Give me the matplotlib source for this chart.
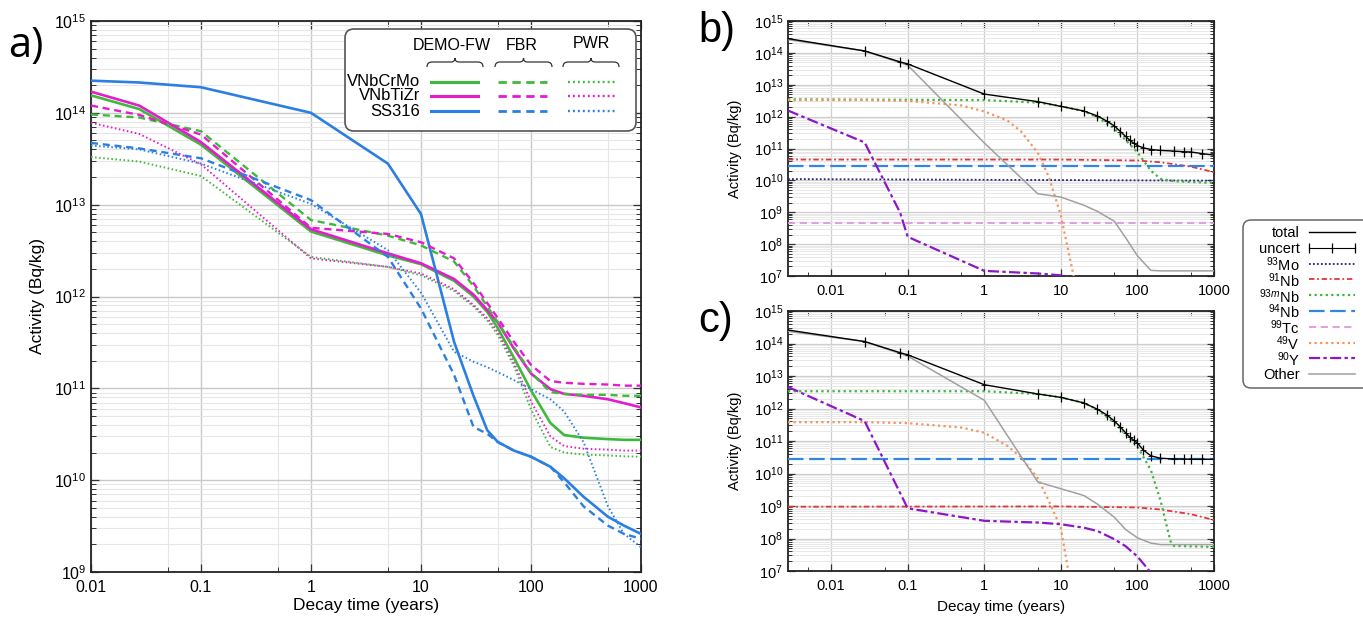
import numpy as np
import matplotlib
matplotlib.use('Agg')
import matplotlib.pyplot as plt
from matplotlib.lines import Line2D
from matplotlib.patches import FancyBboxPatch, PathPatch
from matplotlib.path import Path
from matplotlib.ticker import LogLocator, FuncFormatter, NullFormatter, FixedLocator

plt.rcParams['font.family'] = ['Liberation Sans', 'DejaVu Sans']
plt.rcParams['mathtext.fontset'] = 'custom'
plt.rcParams['mathtext.rm'] = 'Liberation Sans'
plt.rcParams['mathtext.it'] = 'Liberation Sans:italic'
plt.rcParams['mathtext.bf'] = 'Liberation Sans:bold'

# ---------------- Panel a data ----------------
t_a = [0.01, 0.0274, 0.1, 1, 5, 10, 20, 30, 40, 50, 70, 100, 150, 200, 300, 500, 700, 1000]
crmo_demo = [1.55e14, 1.1e14, 4.5e13, 5.1e12, 2.8e12, 2.25e12, 1.48e12, 1.0e12, 6.8e11, 4.5e11,
             2.15e11, 9.5e10, 4.2e10, 3.1e10, 2.9e10, 2.8e10, 2.75e10, 2.75e10]
tizr_demo = [1.7e14, 1.2e14, 4.8e13, 5.4e12, 2.95e12, 2.3e12, 1.55e12, 1.05e12, 7.1e11, 5.2e11,
             2.7e11, 1.45e11, 9.8e10, 8.7e10, 8.3e10, 7.6e10, 6.9e10, 6.2e10]
ss_demo = [2.24e14, 2.14e14, 1.9e14, 1.0e14, 2.8e13, 7.9e12, 3.2e11, 8.3e10, 3.5e10, 2.6e10,
           2.1e10, 1.8e10, 1.4e10, 1.05e10, 6.6e9, 4.0e9, 3.2e9, 2.6e9]
crmo_fbr = [9.6e13, 8.9e13, 6.3e13, 6.8e12, 4.6e12, 3.6e12, 2.4e12, 1.3e12, 7.8e11, 5.2e11,
            2.8e11, 1.48e11, 9.1e10, 8.7e10, 8.5e10, 8.5e10, 8.3e10, 8.3e10]
tizr_fbr = [1.2e14, 9.5e13, 5.8e13, 5.6e12, 4.8e12, 3.9e12, 2.6e12, 1.4e12, 8.5e11, 5.8e11,
            3.2e11, 1.8e11, 1.2e11, 1.15e11, 1.12e11, 1.1e11, 1.07e11, 1.07e11]
ss_fbr = [4.7e13, 4.1e13, 3.2e13, 1.12e13, 2.7e12, 7.4e11, 1.4e11, 3.8e10, 3.2e10, 2.6e10,
          2.1e10, 1.8e10, 1.4e10, 9.5e9, 5.2e9, 3.2e9, 2.6e9, 2.3e9]
crmo_pwr = [3.3e13, 2.95e13, 2.05e13, 2.7e12, 2.1e12, 1.7e12, 1.15e12, 7.8e11, 5.5e11, 3.8e11,
            1.75e11, 5.9e10, 2.3e10, 2.0e10, 1.9e10, 1.86e10, 1.82e10, 1.8e10]
tizr_pwr = [7.8e13, 5.9e13, 2.75e13, 2.6e12, 2.1e12, 1.78e12, 1.2e12, 8.1e11, 5.8e11, 4.1e11,
            1.9e11, 7.2e10, 3.0e10, 2.35e10, 2.2e10, 2.15e10, 2.1e10, 2.1e10]
ss_pwr = [4.4e13, 4.0e13, 2.8e13, 1.02e13, 3.2e12, 1.1e12, 2.5e11, 1.95e11, 1.7e11, 1.5e11,
          1.23e11, 9.8e10, 7.6e10, 5.6e10, 2.6e10, 5.2e9, 2.6e9, 1.86e9]

materials = ['VNbCrMo', 'VNbTiZr', 'SS316']
scenarios = ['DEMO-FW', 'FBR', 'PWR']

# ---------------- Panel b data (VNbTiZr) ----------------
b_t_total = [0.00274, 0.0274, 0.08, 0.1, 1, 5, 10, 20, 30, 40, 50, 60, 70, 80, 90, 100, 120, 150,
             200, 300, 400, 500, 700, 1000]
b_total = [2.8e14, 1.15e14, 5.2e13, 4.5e13, 5.1e12, 2.95e12, 2.1e12, 1.5e12, 1.05e12, 7.2e11,
           5.1e11, 3.4e11, 2.4e11, 1.8e11, 1.45e11, 1.23e11, 1.05e11, 9.3e10, 8.7e10, 8.3e10,
           7.9e10, 7.8e10, 6.9e10, 6.2e10]
b_t_mo93 = [0.00274, 1000]
b_mo93 = [1.1e10, 9.8e9]
b_t_nb91 = [0.00274, 10, 100, 200, 500, 1000]
b_nb91 = [4.5e10, 4.5e10, 4.2e10, 3.7e10, 2.7e10, 1.8e10]
b_t_nb93m = [0.00274, 1, 5, 10, 20, 30, 50, 70, 100, 150, 200, 300, 500, 1000]
b_nb93m = [3.5e12, 3.3e12, 2.75e12, 2.15e12, 1.48e12, 9.5e11, 4.2e11, 1.85e11, 7.6e10, 2.0e10,
           1.12e10, 9.5e9, 8.9e9, 8.3e9]
b_t_nb94 = [0.00274, 1000]
b_nb94 = [2.75e10, 2.75e10]
b_t_tc99 = [0.00274, 1000]
b_tc99 = [4.7e8, 4.7e8]
b_t_v49 = [0.00274, 0.0274, 0.1, 0.5, 1, 2, 3, 5, 7, 10, 12, 15]
b_v49 = [3.3e12, 3.3e12, 3.1e12, 2.25e12, 1.45e12, 7.6e11, 3.5e11, 7.4e10, 1.26e10, 8e8, 1e8, 8e6]
b_t_y90 = [0.00274, 0.0274, 0.08, 0.1, 1, 5, 10, 15]
b_y90 = [1.55e12, 1.55e11, 9.5e8, 1.7e8, 1.45e7, 1.2e7, 1.05e7, 8.9e6]
b_t_other = [0.00274, 0.0274, 0.1, 1, 5, 10, 20, 30, 50, 70, 100, 150, 200, 1000]
b_other = [2.6e14, 1.15e14, 4.1e13, 1.5e11, 3.8e9, 3.0e9, 1.66e9, 1.07e9, 5.2e8, 1.6e8, 4.3e7,
           1.5e7, 1.45e7, 1.45e7]

# ---------------- Panel c data (VNbCrMo) ----------------
c_t_total = b_t_total
c_total = [2.6e14, 1.15e14, 5.2e13, 4.5e13, 5.4e12, 2.8e12, 2.2e12, 1.48e12, 9.5e11, 6.3e11,
           4.1e11, 2.7e11, 1.8e11, 1.3e11, 1.05e11, 8.7e10, 5.2e10, 3.5e10, 2.95e10, 2.8e10,
           2.8e10, 2.75e10, 2.75e10, 2.75e10]
c_t_nb91 = [0.00274, 10, 100, 200, 500, 1000]
c_nb91 = [9.5e8, 9.7e8, 9.0e8, 7.8e8, 5.6e8, 3.7e8]
c_t_nb93m = [0.00274, 1, 5, 10, 20, 30, 50, 70, 100, 150, 200, 270, 300, 1000]
c_nb93m = [3.4e12, 3.4e12, 2.8e12, 2.2e12, 1.48e12, 9.3e11, 3.6e11, 1.6e11, 6.8e10, 1.26e10,
           1.5e9, 8.3e7, 5.9e7, 5.5e7]
c_t_nb94 = [0.00274, 1000]
c_nb94 = [2.8e10, 2.8e10]
c_t_v49 = [0.00274, 0.0274, 0.1, 0.5, 1, 2, 3, 5, 7, 10, 13]
c_v49 = [3.8e11, 3.8e11, 3.55e11, 2.6e11, 1.8e11, 7.1e10, 3.2e10, 7.1e9, 1.4e9, 2.1e8, 6e6]
c_t_y90 = [0.00274, 0.0274, 0.1, 1, 5, 10, 20, 30, 50, 70, 100, 150]
c_y90 = [4.6e12, 4.1e11, 8.5e8, 3.5e8, 3.1e8, 2.75e8, 2.15e8, 1.7e8, 9.5e7, 5.8e7, 2.8e7, 8.9e6]
c_t_other = [0.00274, 0.0274, 0.1, 1, 5, 10, 20, 30, 50, 70, 100, 150, 200, 1000]
c_other = [2.37e14, 1.15e14, 4.1e13, 1.8e12, 5.5e9, 3.4e9, 2.1e9, 1.15e9, 4.5e8, 1.9e8, 1.05e8,
           7.2e7, 6.5e7, 6.5e7]

nuc_labels = ['total', 'uncert', r'$^{93}$Mo', r'$^{91}$Nb', r'$^{93m}$Nb', r'$^{94}$Nb',
              r'$^{99}$Tc', r'$^{49}$V', r'$^{90}$Y', 'Other']

# ---------------- styles ----------------
GREEN, MAGENTA, BLUE = '#3fb93a', '#e31ccd', '#2c7fe2'
mat_col = {'VNbCrMo': GREEN, 'VNbTiZr': MAGENTA, 'SS316': BLUE}
scen_ls = {'DEMO-FW': '-', 'FBR': (0, (3, 2)), 'PWR': (0, (0.8, 1.3))}
scen_lw = {'DEMO-FW': 1.9, 'FBR': 1.7, 'PWR': 1.4}

nuc_style = {
    'total': dict(color='black', ls='-', lw=1.0),
    'uncert': dict(color='black', ls='-', lw=0.8),
    r'$^{93}$Mo': dict(color='#252580', ls=(0, (1, 1.2)), lw=1.3),
    r'$^{91}$Nb': dict(color='#e3363c', ls=(0, (3, 1.5, 1, 1.5)), lw=1.3),
    r'$^{93m}$Nb': dict(color='#3db43a', ls=(0, (1, 1.5)), lw=1.6),
    r'$^{94}$Nb': dict(color='#2f86e4', ls=(0, (7, 2.5)), lw=1.6),
    r'$^{99}$Tc': dict(color='#dc98dc', ls=(0, (4, 2.5)), lw=1.3),
    r'$^{49}$V': dict(color='#f4945c', ls=(0, (1, 1.5)), lw=1.6),
    r'$^{90}$Y': dict(color='#8c17c6', ls=(0, (5, 1.5, 1.5, 1.5)), lw=1.6),
    'Other': dict(color='#a0a0a0', ls='-', lw=1.1),
}

W, H = 1363, 619
fig = plt.figure(figsize=(W / 100, H / 100), dpi=100)


def rect(x0, y0, x1, y1):
    return [x0 / W, 1 - y1 / H, (x1 - x0) / W, (y1 - y0) / H]


axa = fig.add_axes(rect(91, 21, 641, 572))
axb = fig.add_axes(rect(788, 21, 1214, 276))
axc = fig.add_axes(rect(788, 311, 1214, 571))

# ---------------- Panel a ----------------
series_a = {
    ('VNbCrMo', 'DEMO-FW'): crmo_demo, ('VNbTiZr', 'DEMO-FW'): tizr_demo, ('SS316', 'DEMO-FW'): ss_demo,
    ('VNbCrMo', 'FBR'): crmo_fbr, ('VNbTiZr', 'FBR'): tizr_fbr, ('SS316', 'FBR'): ss_fbr,
    ('VNbCrMo', 'PWR'): crmo_pwr, ('VNbTiZr', 'PWR'): tizr_pwr, ('SS316', 'PWR'): ss_pwr,
}
for (m, s), vals in series_a.items():
    axa.plot(t_a, vals, color=mat_col[m], ls=scen_ls[s], lw=scen_lw[s], zorder=3)

ytick_fmt = FuncFormatter(lambda v, p: r'$10^{%d}$' % int(round(np.log10(v))))
xtick_fmt = FuncFormatter(lambda v, p: f'{v:g}')


def style_axes(ax, xlim, ylim, fs, major_len, minor_len):
    ax.set_xscale('log')
    ax.set_yscale('log')
    ax.set_xlim(*xlim)
    ax.set_ylim(*ylim)
    ax.xaxis.set_major_locator(FixedLocator([0.01, 0.1, 1, 10, 100, 1000]))
    ax.xaxis.set_major_formatter(xtick_fmt)
    ax.xaxis.set_minor_locator(LogLocator(base=10, subs=(5,), numticks=20))
    ax.xaxis.set_minor_formatter(NullFormatter())
    ax.yaxis.set_major_locator(LogLocator(base=10, numticks=20))
    ax.yaxis.set_major_formatter(ytick_fmt)
    ax.yaxis.set_minor_locator(LogLocator(base=10, subs=np.arange(2, 10), numticks=20))
    ax.yaxis.set_minor_formatter(NullFormatter())
    ax.tick_params(which='both', direction='in', top=True, right=True, labelsize=fs,
                   color='#333333')
    ax.tick_params(which='major', length=major_len, width=0.9)
    ax.tick_params(which='minor', length=minor_len, width=0.7)
    ax.tick_params(axis='x', which='major', pad=6)
    for sp in ax.spines.values():
        sp.set_linewidth(1.3)
        sp.set_color('#222222')
    ax.set_axisbelow(True)


style_axes(axa, (0.01, 1000), (1e9, 1e15), 11.5, 6, 3.5)
axa.grid(True, which='major', color='#c9c9c9', lw=1.0)
axa.grid(True, which='minor', axis='y', color='#e6e6e6', lw=0.8)
axa.grid(True, which='minor', axis='x', color='#e6e6e6', lw=0.8)
axa.set_xlabel('Decay time (years)', fontsize=12.5)
axa.set_ylabel('Activity (Bq/kg)', fontsize=12.5)
axa.xaxis.set_label_coords(0.5, -0.06)
axa.xaxis.label.set_va('center')
axa.yaxis.set_label_coords(-0.097, 0.5)
axa.yaxis.label.set_va('center')


# ---------------- Panels b, c ----------------
def draw_nuclides(ax, curves, t_total, total):
    for lab, (tt, vv) in curves.items():
        st = nuc_style[lab]
        ax.plot(tt, vv, color=st['color'], ls=st['ls'], lw=st['lw'], zorder=3)
    ax.plot(t_total, total, color='black', lw=1.0, zorder=4)
    ax.plot(t_total[1:-1], total[1:-1], ls='none', marker='|', ms=7, mew=0.9, color='black', zorder=5)
    ax.plot(t_total[1:-1], total[1:-1], ls='none', marker='_', ms=5, mew=0.6, color='black', zorder=5)


curves_b = {
    r'$^{93}$Mo': (b_t_mo93, b_mo93), r'$^{91}$Nb': (b_t_nb91, b_nb91),
    r'$^{93m}$Nb': (b_t_nb93m, b_nb93m), r'$^{94}$Nb': (b_t_nb94, b_nb94),
    r'$^{99}$Tc': (b_t_tc99, b_tc99), r'$^{49}$V': (b_t_v49, b_v49),
    r'$^{90}$Y': (b_t_y90, b_y90), 'Other': (b_t_other, b_other),
}
curves_c = {
    r'$^{91}$Nb': (c_t_nb91, c_nb91), r'$^{93m}$Nb': (c_t_nb93m, c_nb93m),
    r'$^{94}$Nb': (c_t_nb94, c_nb94), r'$^{49}$V': (c_t_v49, c_v49),
    r'$^{90}$Y': (c_t_y90, c_y90), 'Other': (c_t_other, c_other),
}
for ax, curves, tt, tot in [(axb, curves_b, b_t_total, b_total), (axc, curves_c, c_t_total, c_total)]:
    draw_nuclides(ax, curves, tt, tot)
    style_axes(ax, (1 / 365.25, 1000), (1e7, 1e15), 10.5, 5, 3)
    ax.grid(True, which='major', color='#cfcfcf', lw=0.9)
    ax.grid(True, which='minor', axis='y', color='#e8e8e8', lw=0.7)
    ax.set_ylabel('Activity (Bq/kg)', fontsize=10.5)
    ax.yaxis.set_label_coords(-0.125, 0.5)
    ax.yaxis.label.set_va('center')

axc.set_xlabel('Decay time (years)', fontsize=11)
axc.xaxis.set_label_coords(0.5, -0.14)
axc.xaxis.label.set_va('center')

# ---------------- Overlay for legends / panel labels ----------------
ov = fig.add_axes([0, 0, 1, 1], zorder=10)
ov.set_xlim(0, W)
ov.set_ylim(H, 0)
ov.axis('off')
ov.patch.set_alpha(0)

ov.text(8, 46, 'a)', fontsize=30, family=['Open Sans', 'DejaVu Sans'], va='center', ha='left')
ov.text(698, 31, 'b)', fontsize=30, va='center', ha='left')
ov.text(698, 321, 'c)', fontsize=30, va='center', ha='left')

# legend a
ov.add_patch(FancyBboxPatch((345, 29), 291, 102, boxstyle='round,pad=0,rounding_size=9',
                            fc='white', ec='#555555', lw=1.2))
col_x = {'DEMO-FW': (431, 478), 'FBR': (498, 547), 'PWR': (568, 615)}
brace_x = {'DEMO-FW': (427, 483), 'FBR': (495, 552), 'PWR': (563, 619)}
head_x = {'DEMO-FW': 452, 'FBR': 522, 'PWR': 591}
head_y = {'DEMO-FW': 46, 'FBR': 46, 'PWR': 44}
row_y = {'VNbCrMo': 82, 'VNbTiZr': 96, 'SS316': 111}
for s in scenarios:
    ov.text(head_x[s], head_y[s], s, fontsize=11.5, ha='center', va='center')
    x0, x1 = brace_x[s]
    xm = (x0 + x1) / 2
    verts = [(x0, 67), (x0, 62), (x0 + 5, 62), (xm - 4, 62), (xm, 62), (xm, 58),
             (xm, 62), (xm + 4, 62), (x1 - 5, 62), (x1, 62), (x1, 67)]
    codes = [Path.MOVETO, Path.CURVE3, Path.CURVE3, Path.LINETO, Path.CURVE3, Path.CURVE3,
             Path.CURVE3, Path.CURVE3, Path.LINETO, Path.CURVE3, Path.CURVE3]
    ov.add_patch(PathPatch(Path(verts, codes), fc='none', ec='#333333', lw=0.9))
    for m in materials:
        xa, xb = col_x[s]
        ov.add_line(Line2D([xa, xb], [row_y[m], row_y[m]], color=mat_col[m], ls=scen_ls[s],
                           lw=scen_lw[s] + 0.3))
for m in materials:
    ov.text(420, row_y[m], m, fontsize=12, ha='right', va='center')

# legend b/c
ov.add_patch(FancyBboxPatch((1243, 220), 150, 168, boxstyle='round,pad=0,rounding_size=8',
                            fc='white', ec='#666666', lw=1.1))
for i, lab in enumerate(nuc_labels):
    y = 232 + i * 15.8
    ov.text(1300, y + 1, lab, fontsize=10.5, ha='right', va='center')
    st = nuc_style[lab]
    if lab == 'uncert':
        ov.add_line(Line2D([1309, 1332, 1355], [y, y, y], color='black', lw=0.8,
                           marker='|', ms=7, mew=0.9))
    else:
        ov.add_line(Line2D([1309, 1355], [y, y], color=st['color'], ls=st['ls'], lw=st['lw']))

fig.savefig('out.png', dpi=100)
